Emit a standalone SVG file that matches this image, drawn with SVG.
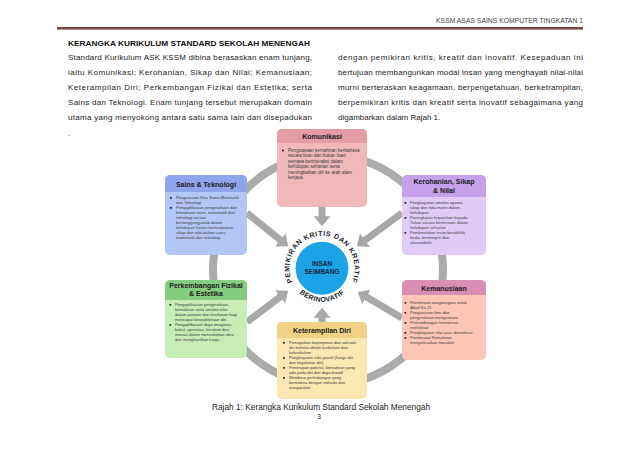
<svg xmlns="http://www.w3.org/2000/svg" width="638" height="452" viewBox="0 0 638 452">
<defs>
<style>
.p{font-family:"Liberation Sans",Arial,sans-serif;font-size:8px;fill:#222}
.t{font-family:"Liberation Sans",Arial,sans-serif;font-size:8px;font-weight:bold;fill:#111}
.hd{font-family:"Liberation Sans",Arial,sans-serif;font-size:7px;font-weight:bold;fill:#1a1a1a;text-anchor:middle}
.b{font-family:"Liberation Sans",Arial,sans-serif;fill:#3a3a3a}
.ring{fill:none;stroke:#ababab;stroke-width:8}
.arr{fill:none;stroke:#a8a8a8;stroke-width:7}
.arc{font-family:"Liberation Sans",Arial,sans-serif;font-size:7px;font-weight:bold;fill:#1c1c2e}
.bl{fill:#222}
</style>
<marker id="ah" viewBox="0 0 6 10" refX="0.5" refY="5" markerWidth="1.45" markerHeight="2.4" orient="auto">
<path d="M0,0 L6,5 L0,10 Z" fill="#a8a8a8"/>
</marker>
<path id="topArc" d="M 295.38 286.94 A 32.5 32.5 0 1 1 348.62 286.94"/>
<path id="botArc" d="M 289 274.1 A 33.5 33.5 0 0 0 355 274.1"/>
</defs>
<rect width="638" height="452" fill="#ffffff"/>

<text x="583" y="23" font-family="Liberation Sans, Arial, sans-serif" font-size="6.8" fill="#444" text-anchor="end">KSSM ASAS SAINS KOMPUTER  TINGKATAN 1</text>
<rect x="57" y="27" width="526" height="2.6" fill="#7a4545"/>

<text class="t" x="68" y="46" textLength="242" lengthAdjust="spacingAndGlyphs">KERANGKA KURIKULUM STANDARD SEKOLAH MENENGAH</text>
<g class="p">
<text x="68" y="60" textLength="244" lengthAdjust="spacing">Standard Kurikulum ASK KSSM dibina berasaskan enam tunjang,</text>
<text x="68" y="75" textLength="244" lengthAdjust="spacing">iaitu Komunikasi; Kerohanian, Sikap dan Nilai; Kemanusiaan;</text>
<text x="68" y="90" textLength="244" lengthAdjust="spacing">Keterampilan Diri; Perkembangan Fizikal dan Estetika;  serta</text>
<text x="68" y="105" textLength="244" lengthAdjust="spacing">Sains dan Teknologi. Enam tunjang tersebut  merupakan domain</text>
<text x="68" y="120" textLength="244" lengthAdjust="spacing">utama yang menyokong antara satu sama lain dan disepadukan</text>
<text x="68" y="136">.</text>
<text x="338" y="60" textLength="245" lengthAdjust="spacing">dengan pemikiran kritis, kreatif  dan inovatif. Kesepaduan ini</text>
<text x="338" y="75" textLength="245" lengthAdjust="spacing">bertujuan membangunkan modal insan yang menghayati nilai-nilai</text>
<text x="338" y="90" textLength="245" lengthAdjust="spacing">murni berteraskan keagamaan, berpengetahuan, berketrampilan,</text>
<text x="338" y="105" textLength="245" lengthAdjust="spacing">berpemikiran kritis dan kreatif serta inovatif sebagaimana yang</text>
<text x="338" y="120">digambarkan dalam Rajah 1.</text>
</g>

<g id="connectors">
<circle class="ring" cx="328" cy="270" r="115"/>
<path class="arr" d="M 322 207 L 322 217" marker-end="url(#ah)"/>
<path class="arr" d="M 322 322 L 322 317" marker-end="url(#ah)"/>
<path class="arr" d="M 247 213 L 281 240.4" marker-end="url(#ah)"/>
<path class="arr" d="M 402 213 L 364.3 240.7" marker-end="url(#ah)"/>
<path class="arr" d="M 247 322 L 280.8 296.4" marker-end="url(#ah)"/>
<path class="arr" d="M 402 318 L 365.7 296.6" marker-end="url(#ah)"/>
</g>

<g id="komunikasi">
<rect x="277" y="129" width="90" height="78" rx="5" fill="#f1b8bc"/>
<path d="M 277 143 V 134 A 5 5 0 0 1 282 129 H 362 A 5 5 0 0 1 367 134 V 143 Z" fill="#e49ca6"/>
<text class="hd" x="322" y="139">Komunikasi</text>
<rect class="bl" x="282" y="149.6" width="1.8" height="1.8"/>
<g class="b" font-size="4.6">
<text x="288" y="152">Penguasaan kemahiran berbahasa</text>
<text x="288" y="157.4">secara lisan dan bukan lisan</text>
<text x="288" y="162.8">semasa berinteraksi dalam</text>
<text x="288" y="168.2">kehidupan seharian serta</text>
<text x="288" y="173.6">meningkatkan diri ke arah alam</text>
<text x="288" y="179">kerjaya</text>
</g>
</g>

<g id="sains">
<rect x="165" y="175" width="82" height="80" rx="5" fill="#b4c6f5"/>
<path d="M 165 192 V 180 A 5 5 0 0 1 170 175 H 242 A 5 5 0 0 1 247 180 V 192 Z" fill="#8ea5ea"/>
<text class="hd" x="206" y="186.5">Sains &amp; Teknologi</text>
<rect class="bl" x="170" y="197" width="1.7" height="1.7"/>
<rect class="bl" x="170" y="207" width="1.7" height="1.7"/>
<g class="b" font-size="4.1">
<text x="176" y="199">Penguasaan Ilmu Sains,Matematik</text>
<text x="176" y="204">dan Teknologi</text>
<text x="176" y="209">Pengaplikasian pengetahuan dan</text>
<text x="176" y="214">kemahiran sains, matematik dan</text>
<text x="176" y="219">teknologi secara</text>
<text x="176" y="224">bertanggungjawab dalam</text>
<text x="176" y="229">kehidupan harian berlandaskan</text>
<text x="176" y="234">sikap dan nilai dalam sains,</text>
<text x="176" y="239">matematik dan teknologi</text>
</g>
</g>

<g id="kerohanian">
<rect x="402" y="175" width="84" height="80" rx="5" fill="#e0cbf8"/>
<path d="M 402 197 V 180 A 5 5 0 0 1 407 175 H 481 A 5 5 0 0 1 486 180 V 197 Z" fill="#c3a2ea"/>
<text class="hd" x="444" y="184">Kerohanian, Sikap</text>
<text class="hd" x="444" y="192.5">&amp; Nilai</text>
<rect class="bl" x="404.5" y="202" width="1.7" height="1.7"/>
<rect class="bl" x="404.5" y="217" width="1.7" height="1.7"/>
<rect class="bl" x="404.5" y="232" width="1.7" height="1.7"/>
<g class="b" font-size="4.1">
<text x="410" y="204">Penghayatan amalan agama,</text>
<text x="410" y="209">sikap dan nilai  murni dalam</text>
<text x="410" y="214">kehidupan</text>
<text x="410" y="219">Peningkatan kepatuhan kepada</text>
<text x="410" y="224">Tuhan secara berterusan dalam</text>
<text x="410" y="229">kehidupan seharian</text>
<text x="410" y="234">Pembentukan insan berakhlak</text>
<text x="410" y="239">mulia, berintegriti dan</text>
<text x="410" y="244">akauntabiliti</text>
</g>
</g>

<g id="perkembangan">
<rect x="165" y="280" width="82" height="78" rx="5" fill="#c7ecb4"/>
<path d="M 165 300 V 285 A 5 5 0 0 1 170 280 H 242 A 5 5 0 0 1 247 285 V 300 Z" fill="#85cd7e"/>
<text class="hd" x="206" y="288" font-size="6.5">Perkembangan Fizikal</text>
<text class="hd" x="206" y="296" font-size="6.5">&amp; Estetika</text>
<rect class="bl" x="169.5" y="304" width="1.7" height="1.7"/>
<rect class="bl" x="169.5" y="324" width="1.7" height="1.7"/>
<g class="b" font-size="4.1">
<text x="175" y="306">Pengaplikasian pengetahuan,</text>
<text x="175" y="311">kemahiran serta amalan nilai</text>
<text x="175" y="316">dalam jasmani dan kesihatan bagi</text>
<text x="175" y="321">mencapai kesejahteraan diri</text>
<text x="175" y="326">Pengaplikasian daya imaginasi,</text>
<text x="175" y="331">bakat, apresiasi, kreativiti dan</text>
<text x="175" y="336">inovasi dalam menzahirkan idea</text>
<text x="175" y="341">dan menghasilkan karya</text>
</g>
</g>

<g id="kemanusiaan">
<rect x="402" y="280" width="84" height="80" rx="5" fill="#fdc6b5"/>
<path d="M 402 295 V 285 A 5 5 0 0 1 407 280 H 481 A 5 5 0 0 1 486 285 V 295 Z" fill="#d98eb3"/>
<text class="hd" x="444" y="290.5">Kemanusiaan</text>
<rect class="bl" x="404.5" y="302" width="1.7" height="1.7"/>
<rect class="bl" x="404.5" y="312" width="1.7" height="1.7"/>
<rect class="bl" x="404.5" y="322" width="1.7" height="1.7"/>
<rect class="bl" x="404.5" y="332" width="1.7" height="1.7"/>
<rect class="bl" x="404.5" y="337" width="1.7" height="1.7"/>
<g class="b" font-size="4.1">
<text x="410" y="304">Pembinaan warganegara untuk</text>
<text x="410" y="309">Abad Ke-21</text>
<text x="410" y="314">Penguasaan ilmu dan</text>
<text x="410" y="319">pengetahuan menginovasi</text>
<text x="410" y="324">Perkembangan kemahiran</text>
<text x="410" y="329">intelektual</text>
<text x="410" y="334">Penghayatan nilai asas demokrasi</text>
<text x="410" y="339">Pembinaan Kemahiran</text>
<text x="410" y="344">menyelesaikan masalah</text>
</g>
</g>

<g id="keterampilan">
<rect x="277" y="322" width="90" height="77" rx="5" fill="#fce6b2"/>
<path d="M 277 338 V 327 A 5 5 0 0 1 282 322 H 362 A 5 5 0 0 1 367 327 V 338 Z" fill="#f0d186"/>
<text class="hd" x="322" y="333">Keterampilan Diri</text>
<rect class="bl" x="283" y="342" width="1.7" height="1.7"/>
<rect class="bl" x="283" y="357" width="1.7" height="1.7"/>
<rect class="bl" x="283" y="367" width="1.7" height="1.7"/>
<rect class="bl" x="283" y="377" width="1.7" height="1.7"/>
<g class="b" font-size="4.1">
<text x="289" y="344">Pemupukan kepimpinan dan sahsiah</text>
<text x="289" y="349">diri melalui aktiviti kurikulum dan</text>
<text x="289" y="354">kokurikulum</text>
<text x="289" y="359">Penghayatan nilai positif (harga diri</text>
<text x="289" y="364">dan keyakinan diri)</text>
<text x="289" y="369">Penerapan potensi, kemahiran yang</text>
<text x="289" y="374">ada pada diri dan daya kreatif</text>
<text x="289" y="379">Membina perhubungan yang</text>
<text x="289" y="384">bermakna dengan individu dan</text>
<text x="289" y="389">masyarakat</text>
</g>
</g>

<g id="insan-seimbang">
<circle cx="322" cy="268.3" r="26.5" fill="#1ba3e6"/>
<text x="322" y="265.5" font-family="Liberation Sans, Arial, sans-serif" font-size="6.5" font-weight="bold" fill="#0f2745" text-anchor="middle">INSAN</text>
<text x="322" y="274" font-family="Liberation Sans, Arial, sans-serif" font-size="6.5" font-weight="bold" fill="#0f2745" text-anchor="middle">SEIMBANG</text>
<text class="arc"><textPath href="#topArc" startOffset="50%" text-anchor="middle" letter-spacing="0.6">PEMIKIRAN KRITIS DAN KREATIF</textPath></text>
<text class="arc"><textPath href="#botArc" startOffset="50%" text-anchor="middle" letter-spacing="0.3">BERINOVATIF</textPath></text>
</g>

<text x="321" y="410" font-family="Liberation Sans, Arial, sans-serif" font-size="8.3" fill="#222" text-anchor="middle" textLength="218" lengthAdjust="spacingAndGlyphs">Rajah 1: Kerangka Kurikulum Standard Sekolah Menengah</text>
<text x="319" y="419" font-family="Liberation Sans, Arial, sans-serif" font-size="6.5" fill="#222" text-anchor="middle">3</text>
</svg>
